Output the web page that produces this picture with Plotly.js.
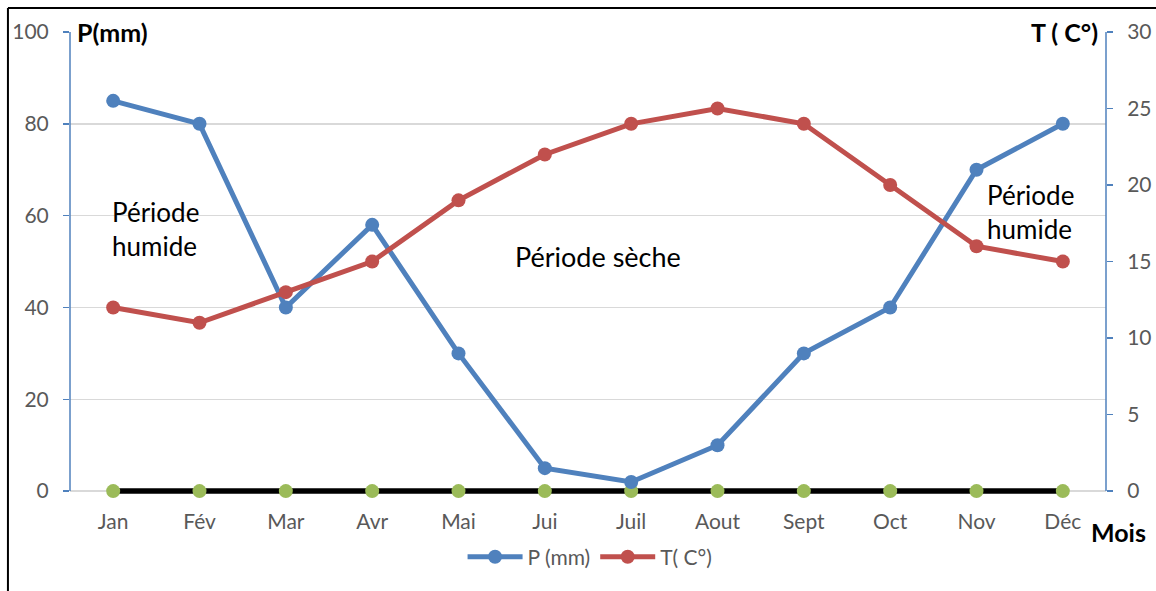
<!DOCTYPE html>
<html>
<head>
<meta charset="utf-8">
<script src="https://cdn.plot.ly/plotly-3.0.1.min.js"></script>
<style>html,body{margin:0;padding:0;background:#fff;}#chart{width:1156px;height:591px;}</style>
</head>
<body>
<div id="chart"></div>
<script>
const months = ["Jan","Fév","Mar","Avr","Mai","Jui","Juil","Aout","Sept","Oct","Nov","Déc"];
const precip = [85,80,40,58,30,5,2,10,30,40,70,80];
const temp = [12,11,13,15,19,22,24,25,24,20,16,15];
const zeroLine = [0,0,0,0,0,0,0,0,0,0,0,0];

const FONT = "Lato, 'Liberation Sans', sans-serif";
const GREY = "#595959";
const AXBLUE = "#4f81bd";

const traces = [
  {x: months, y: zeroLine, type: "scatter", mode: "lines", line: {color: "#000", width: 5.5}, showlegend: false, hoverinfo: "skip", cliponaxis: false},
  {x: months, y: zeroLine, type: "scatter", mode: "markers", marker: {color: "#9bbb59", size: 14}, showlegend: false, hoverinfo: "skip", cliponaxis: false},
  {x: months, y: precip, name: "P (mm)", type: "scatter", mode: "lines+markers", line: {color: "#4f81bd", width: 5}, marker: {color: "#4f81bd", size: 14}, cliponaxis: false},
  {x: months, y: temp, name: "T( C°)", type: "scatter", mode: "lines+markers", yaxis: "y2", line: {color: "#c0504d", width: 5}, marker: {color: "#c0504d", size: 14}, cliponaxis: false}
];

const layout = {
  width: 1156, height: 591,
  margin: {l: 70, r: 50, t: 32, b: 93.1},
  paper_bgcolor: "#fff", plot_bgcolor: "#fff",
  font: {family: FONT, color: GREY, size: 21},
  showlegend: true,
  legend: {orientation: "h", x: 0.502, xanchor: "center", y: -0.1269, yanchor: "middle", font: {size: 21, color: GREY}, traceorder: "normal", itemwidth: 55},
  xaxis: {type: "category", range: [-0.5, 11.5], showgrid: false, zeroline: false, showline: false, ticks: "", ticklabelstandoff: 9, tickfont: {size: 21, color: GREY}, fixedrange: true},
  yaxis: {range: [-1.5, 100], tickvals: [0,20,40,60,80,100], showgrid: true, gridcolor: "#d9d9d9", gridwidth: 1.5, zeroline: false, showline: false, ticks: "outside", ticklen: 6, tickcolor: AXBLUE, tickwidth: 1.5, ticklabelstandoff: 10, tickfont: {size: 21, color: GREY}},
  yaxis2: {range: [-0.45, 30], tickvals: [0,5,10,15,20,25,30], overlaying: "y", side: "right", showgrid: false, zeroline: false, showline: false, ticks: "outside", ticklen: 6, tickcolor: AXBLUE, tickwidth: 1.5, ticklabelstandoff: 10, tickfont: {size: 21, color: GREY}},
  shapes: [
    {type: "line", xref: "paper", yref: "y", x0: 0, x1: 0, y0: 0, y1: 100, line: {color: AXBLUE, width: 1.5}, layer: "above"},
    {type: "line", xref: "paper", yref: "y", x0: 1, x1: 1, y0: 0, y1: 100, line: {color: AXBLUE, width: 1.5}, layer: "above"},
    {type: "line", xref: "paper", yref: "paper", x0: -0.0599, x1: -0.0599, y0: 1.0515, y1: -0.3, line: {color: "#000", width: 2}},
    {type: "line", xref: "paper", yref: "paper", x0: -0.0599, x1: 1.06, y0: 1.0515, y1: 1.0515, line: {color: "#000", width: 2}}
  ],
  annotations: [
    {xref: "paper", yref: "y", x: 0.0048, y: 100, xanchor: "left", yanchor: "middle", text: "<b>P(mm)</b>", showarrow: false, font: {size: 25, color: "#000"}},
    {xref: "paper", yref: "y", x: 0.9942, y: 100, xanchor: "right", yanchor: "middle", text: "<b>T ( C°)</b>", showarrow: false, font: {size: 25, color: "#000"}},
    {xref: "paper", yref: "paper", x: 0.9836, y: -0.0732, xanchor: "left", yanchor: "middle", text: "<b>Mois</b>", showarrow: false, font: {size: 25, color: "#000"}},
    {xref: "paper", yref: "y", x: 0.0386, y: 57.08, xanchor: "left", yanchor: "middle", align: "left", text: "Période<br>humide", showarrow: false, font: {size: 26, color: "#000"}},
    {xref: "paper", yref: "y", x: 0.5097, y: 51.2, xanchor: "center", yanchor: "middle", text: "Période sèche", showarrow: false, font: {size: 27, color: "#000"}},
    {xref: "paper", yref: "y", x: 0.8832, y: 60.78, xanchor: "left", yanchor: "middle", align: "left", text: "Période<br>humide", showarrow: false, font: {size: 26, color: "#000"}}
  ]
};

Plotly.newPlot("chart", traces, layout, {displayModeBar: false, staticPlot: true});
</script>
</body>
</html>
